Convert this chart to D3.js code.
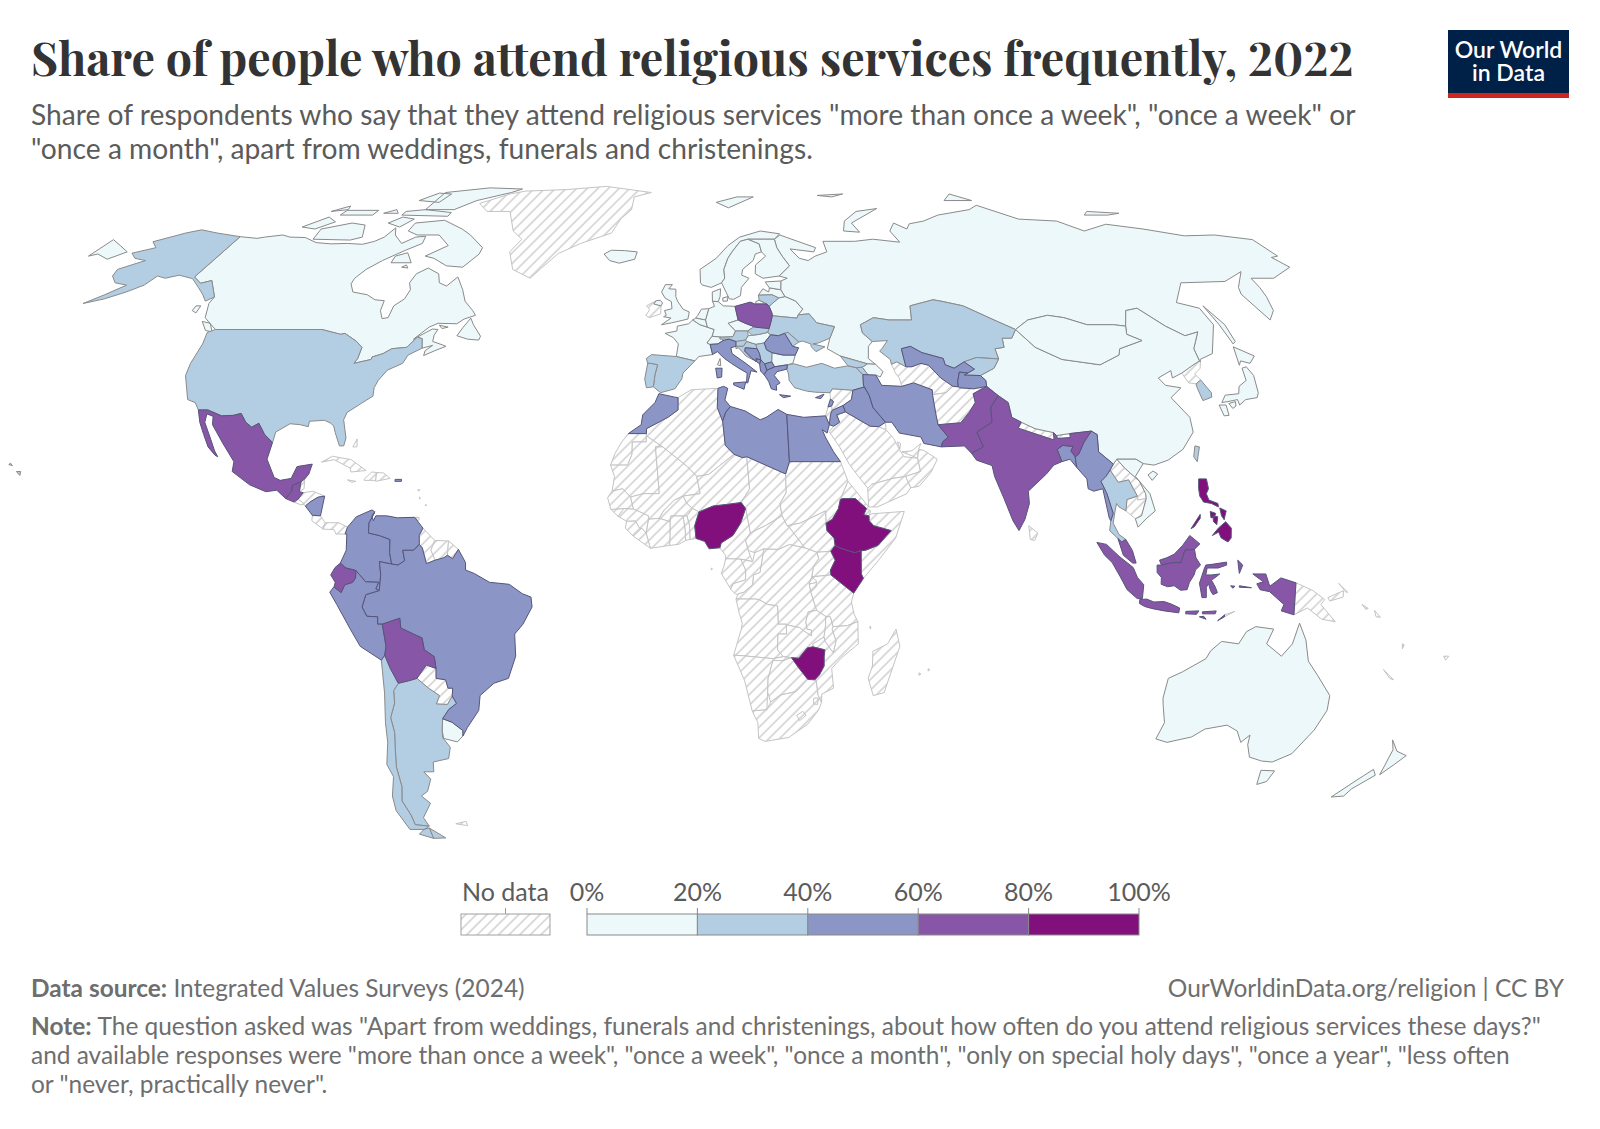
<!doctype html>
<html>
<head>
<meta charset="utf-8">
<title>Share of people who attend religious services frequently, 2022</title>
<script src="https://cdnjs.cloudflare.com/ajax/libs/d3/7.8.5/d3.min.js"></script>
<style>
  html, body { margin: 0; background: #fff; }
  text { font-family: Lato, "Noto Sans", sans-serif; }
</style>
</head>
<body>
<div id="chart"></div>
<script>

const binEdges = [0, 20, 40, 60, 80, 100];
const binColors = ["#edf8fb", "#b3cde3", "#8c96c6", "#8856a7", "#810f7c"];

const band0 = [
  ["Canada", "-141,69.6 -135,69.2 -133,69.5 -128,70 -125,69.5 -120,69.4 -115,68.2 -110,67.9 -105,68 -100,67.8 -97,68.5 -95,69.5 -94,71.8 -92,70 -90,69 -88,68 -85,69.5 -82,69.7 -81.5,68 -85,66.5 -87,65.5 -90,64 -93,62 -94.5,60 -94.5,58.8 -92.5,57 -88,56.4 -85,55.3 -82.3,55.1 -82,53 -80.5,51.3 -79,51.5 -79,54 -77,55.5 -76.7,57.5 -78,59 -77.5,61 -75,62.3 -71,61 -69.5,59 -67,58.3 -65,60.3 -62,57.5 -60,55 -57,53 -55.8,52 -58.5,51.2 -60,50.2 -65,50.3 -67,49.5 -70,47 -66,49.1 -64.5,49 -65,47.8 -64.8,46.5 -62,45.8 -61,45.5 -63.5,44.6 -66,43.6 -66,44.6 -64.5,45.7 -67,45.1 -67.8,47.1 -69.2,47.4 -71,45.3 -74.7,45 -76.5,44 -79,43.3 -79,42.8 -83,42 -82.5,43 -82.5,45.3 -84.5,46.5 -88.5,48.2 -89.5,48 -95,49 -123,49 -125,50 -128,51.5 -130,54.5 -130,55.9 -135,59.5 -137.5,58.9 -141,60.3",
    "-80,73.7 -72,71.5 -68,70 -62,67 -62,65.5 -65,62.5 -70,62.8 -75,64.5 -78,65 -73,67.5 -78,70 -85,70 -89,71 -89,73",
    "-117,69 -105,68.8 -102,69.5 -105,72.5 -110,73 -118,71.5",
    "-125,72 -120,71.5 -116,73.3 -120,74.5",
    "-90,76.5 -80,76.5 -75,79 -65,81.5 -62,82.7 -75,83.1 -90,81.5",
    "-96,75 -80,74.7 -80,75.7 -90,76.5 -96,76",
    "-117,75 -106,75 -106,76.3 -117,76.3",
    "-96,79 -88,78.5 -87,81 -92,81.3",
    "-59,47.7 -56,47 -53,46.8 -52.8,47.6 -55.5,50 -56.8,51.4 -58,49.5",
    "-128,50.7 -125.5,50.3 -123.5,48.5 -125.5,48.8",
    "-87,63.5 -81,63.5 -84,65.8 -87,65",
    "-98,73 -93,72 -90.5,74 -95,74.5",
    "-133,54 -131.7,54 -131.5,52.5 -133,53",
    "-64.5,49.9 -62,49.5 -63.5,49.2",
    "-122,76 -117,76.5 -118,77.5",
    "-103,75.5 -98,75.5 -100,76.5",
    "-83,62.5 -81,62.3 -82,63"],
  ["Russia", "28.9,69 31,70 33,69.4 41,67 40,66 35,66.5 33,66.7 35,64.5 37.5,64 40,65 44,66 44,68.5 54,68.5 60,69 68,68.3 67,71 70,73 73,71.5 75,72.8 80.5,73.5 87,75 100,76.5 104.5,77.7 113,74 125,73.5 130,71 140,72.7 150,71.5 160,69.8 170,70 179.9,68.9 179.9,65 177.5,64.7 179,62.5 170,60 163.5,60 163,58 162,56 160,53 156.7,51 155.7,56.5 157,58 163,61.5 155,59.3 142,59 135.5,54.7 140.5,53.5 140.5,50 135,44 131,42.8 130.7,42.3 130.6,42.5 131,45 135,48.5 131,47.7 127.5,49.7 123.5,53.5 120,53 117,49.7 114,50 107,50 102,51.5 98,52 92,51 87.5,49 83,51 76.5,54 71,55 69,55.3 62,54 61,51 55,51 51,51.5 47,50 47,48.3 49,46.5 47.7,45.5 47,43 48.5,41.8 46.5,41.9 40,43.5 37,45 38.2,47.2 40,49.6 35.5,50.4 34,52.3 31,52.1 32.5,53.3 31,55 28.3,56 27.5,57.5 28,59.4 30,60 27.8,60.5 31.5,62.8 30,65 29,67",
    "-179.9,68.9 -175,67.5 -170,66 -173,64.3 -178,65.5 -179.9,65",
    "142,54 143.5,50 143,46.5 142,46 142,50",
    "52,71 57,70.7 56,73 68,76.8 60,76 54,73.5",
    "95,79 105,79 100,81",
    "137,75 145,75 150,75.5 140,76",
    "50,80.5 60,81 55,80",
    "20,54.4 23,54.4 21,55.2 20,54.9"],
  ["China", "74,39.5 78,41 80,42.9 80,45 82.5,45.3 83,47.2 85.5,47.2 87.5,49 90.5,45.3 96,42.8 105,41.7 111,43.7 112,45 119,46.7 116,48 117,49.7 120,53 123.5,53.5 127.5,49.7 131,47.7 135,48.5 131,45 130.6,42.5 128,41.5 124.4,40 121.5,39 122,40.5 118,39 119,37.5 122.5,37 119,35 121.8,31 121.5,28 118,24.5 114,22.3 110.5,21.3 108,21.6 106.5,22.5 102,22.5 101,21.5 98,24 98.5,27.5 97.3,28.2 92,27.7 88.8,27.3 88.2,27.9 84,28.7 81,30 79,31 79,34 77,35.4 74.8,37.3 75,38.5",
    "108.7,19.3 110,20.1 111,19.5 109.5,18.2"],
  ["Mongolia", "87.5,49 92,51 98,52 102,51.5 107,50 114,50 117,49.7 116,48 119,46.7 112,45 111,43.7 105,41.7 96,42.8 90.5,45.3"],
  ["Australia", "113.7,-26 114,-22 117,-20.7 122,-18 122.8,-16.4 125,-14.5 129,-15 130.5,-12.5 132.5,-11.5 136.7,-12 135.5,-15 139.5,-17.5 141.5,-15 142.5,-10.8 144.5,-14.2 146,-18.5 149,-21.5 153,-25.5 153.6,-28.5 152.5,-32.5 150,-37.3 146.3,-39 143.5,-38.8 140,-38 138,-35.5 137.5,-33.5 136,-35 134,-32.7 131,-31.5 126,-32.3 123.5,-33.9 118,-35 115,-34.3 115.7,-31 114.2,-27.5",
    "144.7,-40.7 148.2,-40.8 148,-43 146,-43.6"],
  ["New Zealand", "172.7,-34.5 175.5,-36.8 178.5,-37.7 177,-39.5 175.3,-41.6 174.8,-39.8 174.5,-38 174.3,-36.5",
    "172.7,-40.5 174.3,-41.7 171,-44.5 170.5,-46 167.5,-46.2 170.5,-42.8"],
  ["Japan", "130.9,34 132.5,35.5 136,35.8 137,37.3 139.5,38.5 140.2,41 141.5,41.3 142,39.5 140.9,36 140,35 137,34.6 135,33.5 135,34.6 132.5,34.2",
    "140,41.6 141.5,45.4 145.3,43.5 143,42 141,42.5",
    "130,33.5 131.7,33.5 131.4,31.4 130.2,31.3",
    "132.5,33.8 134.3,34.2 134,33.3 133,32.8"],
  ["France", "2.6,51 4.5,50 6.4,49.5 8.2,49 7.6,47.6 6.2,46.2 7,45.9 7.5,44 7.5,43.8 4,43.4 3,42.5 -1.7,43.4 -1.2,46 -2.5,47.3 -4.7,48.2 -1.6,48.7 -1.5,49.7 1.5,50.2",
    "9.4,43 9.5,41.5 8.7,41.7"],
  ["Germany", "6,51 7,53.4 8.6,53.9 8.1,55 9.7,54.9 11,54 14.2,53.9 14.7,51 12,50.3 13.8,48.7 13,47.5 10,47.4 7.6,47.6 8.2,49 6.4,49.5"],
  ["United Kingdom", "-5.7,50 -3,50.4 1.3,51.2 1.7,52.7 0,53.3 -1.5,55 -2,56 -2,57.6 -4,57.7 -3,58.6 -5,58.6 -6,57 -5,55.7 -3.2,54.9 -3,53.4 -5,53 -4.5,52 -5.2,51.7 -3.2,51.4",
    "-8,54.4 -6,54 -5.6,54.6 -6.3,55.2 -7.4,55.1"],
  ["Iceland", "-24,65.5 -22,64 -19,63.4 -14.5,64.3 -14,66 -18,66.3 -22,66.4"],
  ["Norway", "5,59 5,62 10,64.5 14,67.5 18,69.5 25,71 31,70.3 28.9,69 25.7,69 20.5,69 18,68.5 15,66 13.5,64.5 12,62 12,60 11,59 8,58 5.5,58.5",
    "12,78.5 20,80 26,80 16,77"],
  ["Sweden", "11,59 12,60 12,62 13.5,64.5 15,66 18,68.5 20.5,69 23.8,67.9 24,66 22,65.5 21,64 17.5,62 17,60.7 19,60 16.5,58 16,56.2 14,55.4 12.8,55.5"],
  ["Finland", "20.5,69 25.7,69 28.9,69 29,67 30,65 31.5,62.8 27.8,60.5 23,60 21,61 21.5,63 25,65 24,66 23.8,67.9"],
  ["Denmark", "8.1,55 8.2,57 10.6,57.7 10.3,56 9.7,54.9", "11,55.7 12.5,56 12.2,55 11,55"],
  ["Netherlands", "3.4,51.4 6,51 7,53.4 5,53.3 4,52"],
  ["Belgium", "2.6,51 3.4,51.4 6,51 6.4,49.5 4.5,50"],
  ["Switzerland", "6.2,46.2 7.6,47.6 10,47.4 10.4,46.7 9,46 7,45.9"],
  ["Czechia", "12,50.3 14.7,51 16.5,50.3 18.8,49.6 17,48.7 14.8,48.7 13.8,48.7"],
  ["Hungary", "16.2,46.8 17,47.7 18,47.8 20,48 22.2,48.4 22.9,47.9 21,46.2 18.8,45.9 16.5,46.5"],
  ["Bulgaria", "22.7,44.2 25.5,43.7 28.6,43.7 27.7,42 26.3,41.7 23,41.3 22.4,42.3"],
  ["Belarus", "23.5,53.9 26.5,55.7 28.3,56 31,55 32.5,53.3 31,52.1 30.5,51.4 24,51.9 24,52.5"],
  ["Latvia", "21,56.3 24.8,56.4 26.5,55.7 28.3,56 27.5,57.5 24.4,57.9 24,57 22.5,57.7"],
  ["Estonia", "24.4,57.9 27.5,57.5 28,59.4 23.5,59.2"],
  ["Azerbaijan", "45,41.2 46.5,41.9 48.5,41.8 50,40.3 49,39.2 48,39.6 46.5,39"],
  ["Vietnam", "102,22.5 106.5,22.5 108,21.6 105.7,19 108.5,15.5 109.3,12 107,10.4 105,8.7 104.5,10.4 106,11 107.5,14.5 107.5,15.5 106.5,18 103.5,20.7"],
  ["Uruguay", "-57.6,-30.2 -55.5,-30.9 -53.2,-32.6 -53.4,-33.7 -55,-34.9 -58.2,-34.2 -58.2,-32.5"]
];

const band1 = [
  ["United States", "-123,49 -95,49 -89.5,48 -88.5,48.2 -84.5,46.5 -82.5,45.3 -82.5,43 -83,42 -79,42.8 -79,43.3 -76.5,44 -74.7,45 -71,45.3 -69.2,47.4 -67.8,47.1 -67,45.1 -70,43.7 -70.7,42 -74,40.6 -75.5,38.5 -76,37 -75.7,35.3 -78,33.9 -81,32 -81.4,30.5 -80,26.8 -80.2,25.2 -81.2,25.2 -81.8,26.2 -82.8,27.9 -83.5,29.3 -84.5,29.9 -86,30.4 -89.5,30.2 -89.5,29.1 -91.5,29.5 -94,29.7 -97,28 -97.2,25.9 -99.5,27.5 -101.5,29.8 -103,29 -104.7,30 -106.5,31.8 -108.2,31.4 -111,31.3 -114.8,32.5 -117.1,32.5 -118.5,34 -120.6,34.6 -122,36.8 -123.8,39.5 -124.2,42 -124,46 -124.7,48.4",
    "-141,69.6 -141,60.3 -137.5,58.9 -135,59.5 -130,55.9 -131.5,55 -134,56.5 -137,58 -141,59.9 -146,60.7 -149,60 -152,60.5 -153,58.5 -156,57 -160,55.5 -164.5,54.5 -161,56.5 -158,58.5 -162,59 -165,60.5 -166,62 -161,64 -165,64.5 -168,65.7 -163,67 -166.5,68.4 -160,70.5 -156.5,71.3 -150,70.5",
    "-156,20 -155,19.2 -155,20", "-157.3,21.2 -157.9,21.7 -158.2,21.4"],
  ["Spain", "-9.3,43 -8,43.8 -1.7,43.4 3,42.5 0,40 -0.3,38.8 -2,36.8 -5.5,36 -7.3,37.2 -7,39.6 -6.4,41.7 -8.2,42 -8.9,42"],
  ["Portugal", "-8.9,42 -8.2,42 -6.4,41.7 -7,39.6 -7.3,37.2 -9,37 -9.5,38.8"],
  ["Austria", "9.6,47.4 10,47.4 13,47.5 13.8,48.7 14.8,48.7 17,48.7 17,47.7 16.2,46.8 13.7,46.5 12,47 9.6,47"],
  ["Slovakia", "17,48.7 18.8,49.6 19,49.5 22.7,49.2 22.2,48.4 20,48 18,47.8"],
  ["Slovenia", "13.7,46.5 16.2,46.8 16.5,46.5 15.5,45.5 13.6,45.5"],
  ["Croatia", "13.6,45.5 15.5,45.5 16.5,46.5 18.8,45.9 19,45 16,45.2 15.8,44.5 17.5,43 18.5,42.4 16,43.5 15,44.5 14.2,45.2 13.6,45"],
  ["Serbia", "19,45 18.8,45.9 21,46.2 21.4,44.8 22.7,44.2 22.4,42.3 20.6,41.9 19.7,42.7 19.5,44"],
  ["Ukraine", "22.2,48.4 22.7,49.2 23.6,51 24,51.9 30.5,51.4 31,52.1 34,52.3 35.5,50.4 40,49.6 38.2,47.2 35,46.2 33.5,46 36.5,45.4 34,44.4 33,45.4 33,46 31,46.6 30,46.4 27.5,48.4 26.6,48.2 24.9,47.7 22.9,47.9"],
  ["Moldova", "26.6,48.2 27.5,48.4 30,46.4 28.2,45.5"],
  ["Lithuania", "21,56.3 21,55.2 23,54.4 23.5,53.9 26.5,55.7 24.8,56.4"],
  ["Turkey", "26,40.8 26.3,41.7 28,41.9 31,41.2 35,42 38,41 41.5,41.5 43.5,41.1 44.8,39.7 44.5,37.5 44.8,37.2 41.7,36.5 36.7,36.8 36,36 32.5,36.1 30.5,36.3 27.5,37 26.3,38.5 26.3,39.8"],
  ["Georgia", "40,43.5 46.5,41.9 45,41.2 43.5,41.1 41.5,41.5"],
  ["Armenia", "43.5,41.1 45,41.2 46.5,39 44.8,39.7"],
  ["Kazakhstan", "47,50 51,51.5 55,51 61,51 62,54 69,55.3 71,55 76.5,54 83,51 87.5,49 85.5,47.2 83,47.2 82.5,45.3 80,45 80,42.9 74.5,43.2 71,42.3 68,41 66,41.7 66,43 61,44.2 58.5,45.5 56,45 56,41.3 54,42.3 52.5,41.8 52.5,42.8 50.3,44.5 51,45 53,46.7 49,46.5 47,48.3"],
  ["Kyrgyzstan", "71,42.3 74.5,43.2 80,42.9 78,41 74,39.5 70,39.6 71,40 73,40.8"],
  ["Thailand", "100,20.3 101.5,17.8 104,18.3 105.5,15 103,14.3 102.5,12 101,12.8 100.5,13.5 100,12 99.3,9.5 100.5,7.2 102,6.2 101,5.7 100.2,6.4 98.4,8 98.8,10 99.5,11.5 98.5,15.5 97.5,18 98.8,19"],
  ["South Korea", "126.7,37.8 128.3,38.6 129.4,36 129,35.1 126.5,34.4 126.5,37"],
  ["Taiwan", "120.2,23 121,25.2 122,25 120.8,22"],
  ["Argentina", "-67,-23 -64.5,-22.5 -62.5,-22 -60,-24 -57.6,-25.5 -58.6,-27.2 -56,-27.3 -54.6,-25.6 -53.8,-27.1 -55.8,-28.3 -57.6,-30.2 -58.2,-32.5 -58.4,-34 -57,-36 -58,-38.3 -62,-39 -62.5,-41 -65,-41 -63.8,-42.5 -65.5,-45 -67.5,-46 -65.8,-47.5 -69,-50.5 -68.4,-52.3 -72,-52 -72,-50 -73,-47 -71.7,-44 -71.5,-40 -70.5,-36 -69.8,-33 -70,-30 -68.5,-27 -68.3,-24.5",
    "-68.6,-52.7 -65.2,-54.8 -68.6,-54.9"],
  ["Chile", "-70.4,-18.3 -69.5,-17.3 -68.5,-20 -67,-23 -68.3,-24.5 -68.5,-27 -70,-30 -69.8,-33 -70.5,-36 -71.5,-40 -71.7,-44 -73,-47 -72,-50 -72,-52 -68.4,-52.3 -70,-53 -74,-53 -75.5,-49 -75,-46 -73,-42 -73.7,-39.5 -72,-35 -71.5,-31 -70.5,-25",
    "-68.6,-52.7 -68.6,-54.9 -72,-54 -70,-52.9"]
];

const band2 = [
  ["Italy", "7,45.9 9,46 10.4,46.7 12,47 13.7,46.5 13.6,45.5 12.3,45.2 12.5,44 16,41.9 18.5,40.2 17,40.5 16.6,39.5 16,38 15.7,38 16,40 14,41 12.2,42 10.5,43 8.8,44.4 7.5,43.8 7.5,44",
    "12.5,38 15.5,38.2 15,36.7 12.5,37.6", "8.2,41 9.8,41 9.6,39.2 8.5,39"],
  ["Greece", "20.2,39.7 21,40.6 23,41.3 26.3,41.7 26,40.8 23.5,40.3 22.7,39.5 24,38 23,37.5 23,36.5 21.7,36.8 21.2,38.3", "23.6,35.6 26.3,35.3 24.5,35"],
  ["Albania", "19.3,41.9 19.7,42.7 20.6,41.9 21,40.6 20.2,39.7 19.4,40.4"],
  ["Montenegro", "18.5,42.4 18.5,43 19.7,42.7 19.3,41.9"],
  ["North Macedonia", "20.6,41.9 22.4,42.3 23,41.3 21,40.6"],
  ["Bosnia and Herzegovina", "16,45.2 19,45 19.5,44 19.7,42.7 18.5,43 18.5,42.4 17.5,43 15.8,44.5"],
  ["Romania", "21,46.2 22.9,47.9 24.9,47.7 26.6,48.2 28.2,45.5 29.7,45.2 28.6,43.7 25.5,43.7 22.7,44.2 21.4,44.8"],
  ["Cyprus", "32.3,35 34.5,35.7 33.6,34.8"],
  ["Morocco", "-5.9,35.8 -2,35.1 -1.2,35 -1.2,32.5 -3.6,31 -8.7,28.7 -8.7,27.7 -13,27.7 -10,29.5 -9.7,31.5 -6.8,34"],
  ["Tunisia", "8.6,36.9 10,37.3 11,36.9 10.2,34.5 11.5,33.2 10.3,32 9.5,30.2 8.3,33"],
  ["Libya", "11.5,33.2 15,32.3 18.5,30.5 20,31 23,32.6 25,31.6 25,22 24,19.5 15,23 14,22.8 12,23.5 10,25.3 9.5,30.2 10.3,32"],
  ["Egypt", "25,31.6 29,31 32.5,31.2 34.3,31.3 35,29.5 34.3,27.8 33.2,28.5 33.8,27 35.5,24 37,22 25,22"],
  ["Lebanon", "35.1,33.1 35.9,34.7 36.6,34.2 36,33.3"],
  ["Jordan", "35,29.5 36,29.2 37.5,30 37,31.5 39.2,32.1 38.8,33.4 36,32.4 35.5,31.5"],
  ["Iraq", "38.8,33.4 41,34.6 41.7,36.5 44.8,37.2 44.5,37.5 45.5,35.5 46,33 48.5,30 46.7,29.1 44.7,29.2 39.2,32.1"],
  ["Iran", "44.8,39.7 48,39.6 49,37.5 53.9,37.3 57,38 61.2,36.6 61,35.6 60.9,31.5 61,29.5 63,27 61.5,26 61,25 57,25.7 56.5,27 51.5,27.8 50,30 48.5,30 46,33 45.5,35.5 44.5,37.5"],
  ["Uzbekistan", "56,45 58.5,45.5 61,44.2 66,43 66,41.7 68,41 71,42.3 73,40.8 71,40 69,40.2 68,38.3 67.8,37.2 66.5,37.3 64,39 61.8,41.6 60,42 57.5,41.3 56,41.3"],
  ["Tajikistan", "69,40.2 71,40 70,39.6 74,39.5 75,38.5 74.8,37.3 71.5,36.8 68,37 67.8,37.2 68,38.3"],
  ["Bangladesh", "88.3,24.5 89.8,25.3 92.2,25.1 91.5,24.2 92.3,23 92.3,20.8 91,22.5 89,22"],
  ["Myanmar", "92.3,20.8 92.3,23 93.2,23.5 95,26 97.3,28.2 98.5,27.5 98,24 101,21.5 100,20.3 98.8,19 97.5,18 98.5,15.5 99.5,11.5 98.8,10 98.5,10.5 97.7,16.5 95.5,16 94.3,16.5 94.3,18.5"],
  ["Nicaragua", "-83.2,15 -83.8,11 -85.7,11.1 -87.5,13 -86.5,13.8 -84.7,14.8"],
  ["Colombia", "-77.4,8.7 -75.5,10.8 -72,12.2 -71.3,11.8 -72.5,9.5 -72.5,7.5 -70,7 -67.5,6.2 -67.5,3.5 -67,1.2 -69.8,1.7 -69.5,-1 -69.9,-4.2 -70.7,-3.8 -70,-2.5 -73,-2.4 -75.2,-0.1 -77.5,0.4 -78.8,1.4 -77.5,4 -77.5,7.3 -77.9,7.3"],
  ["Venezuela", "-71.3,11.8 -71.9,11 -71.5,10 -71,11 -68.5,11 -66,10.6 -62,10.7 -60,8.5 -60.8,7 -60.7,5.2 -62,4 -64.5,4 -64,1.9 -65.5,1 -67,1.2 -67.5,3.5 -67.5,6.2 -70,7 -72.5,7.5 -72.5,9.5"],
  ["Brazil", "-60.7,5.2 -60,4.5 -59,1.3 -57,2 -55,2.5 -54.2,3 -53,2.3 -51.7,4.2 -50,1.5 -50,0 -48,-0.7 -44.5,-2.5 -40,-2.9 -37,-4.8 -35,-5.5 -34.8,-7.5 -37,-11 -39,-13 -39,-17.5 -41,-22 -44.5,-23 -48,-25.5 -48.7,-28.5 -52,-32 -53.4,-33.7 -53.2,-32.6 -55.5,-30.9 -57.6,-30.2 -55.8,-28.3 -53.8,-27.1 -54.6,-25.6 -54.3,-24 -55.4,-24 -55.8,-22.3 -58,-22 -57.8,-20 -58,-17.6 -60.2,-16.2 -60.5,-13.8 -62.5,-13 -65.3,-11.8 -65.4,-9.8 -69.5,-11 -70.6,-11 -70.5,-9.5 -73,-9.4 -74,-7.5 -73,-5 -70,-4.2 -69.9,-4.2 -69.5,-1 -69.8,1.7 -67,1.2 -65.5,1 -64,1.9 -64.5,4 -62,4"],
  ["Peru", "-80.3,-3.4 -81.3,-4.5 -79.8,-7 -77,-12 -75,-15.5 -70.4,-18.3 -69.5,-17.3 -69,-15.5 -69.5,-11 -70.6,-11 -70.5,-9.5 -73,-9.4 -74,-7.5 -73,-5 -70,-4.2 -70.7,-3.8 -70,-2.5 -73,-2.4 -75.2,-0.1 -75.3,-1.6 -76,-2.5 -77.8,-3 -78.7,-4.6"],
  ["Puerto Rico", "-67.2,18.4 -65.7,18.4 -65.7,18 -67.2,18"]
];

const band3 = [
  ["Mexico", "-117.1,32.5 -114.8,32.5 -111,31.3 -108.2,31.4 -106.5,31.8 -104.7,30 -103,29 -101.5,29.8 -99.5,27.5 -97.2,25.9 -97.8,22.5 -95.5,18.8 -94,18.2 -91.5,18.6 -90.5,21 -87,21.5 -87.5,19.5 -88.3,18.5 -89.1,17.9 -91,17.2 -91,16 -92.2,14.5 -94.5,16.2 -97,15.9 -101,17.3 -105.5,20 -105.5,22 -109,25.8 -112.5,29.5 -113,31.2 -114.7,31.7 -114.5,30 -112,26.5 -110.5,24.2 -109.5,23 -110.2,23.3 -112.2,25 -114,27.5 -115.7,30"],
  ["Guatemala", "-92.2,14.5 -91,16 -91,17.2 -89.1,17.9 -89.2,15.9 -88.3,15.7 -89.3,14.4 -90.2,13.8"],
  ["Ecuador", "-75.2,-0.1 -77.5,0.4 -78.8,1.4 -80,0.5 -81,-1 -80,-2.5 -80.3,-3.4 -78.7,-4.6 -77.8,-3 -76,-2.5 -75.3,-1.6"],
  ["Bolivia", "-69.5,-11 -65.4,-9.8 -65.3,-11.8 -62.5,-13 -60.5,-13.8 -60.2,-16.2 -58,-17.6 -57.8,-20 -60,-19.3 -62.5,-22 -64.5,-22.5 -67,-23 -68.5,-20 -69.5,-17.3 -69,-15.5"],
  ["Poland", "14.2,53.9 18.5,54.8 19.7,54.4 23,54.4 23.5,53.9 24,52.5 24,51.9 23.6,51 22.7,49.2 19,49.5 18.8,49.6 16.5,50.3 14.7,51"],
  ["Pakistan", "61,25 61.5,26 63,27 61,29.5 66.5,29.9 69,32 71,34 71,35.8 74.8,37.3 77,35.4 74.5,33 74,30 70,28 71,25 68,23.7 66.5,25.2"],
  ["India", "68,23.7 71,25 70,28 74,30 74.5,33 77,35.4 79,34 79,31 81,30 80,28.8 88,26.4 88.2,27.9 88.8,27.3 88.9,26.7 92,26.9 92,27.7 97.3,28.2 95,26 93.2,23.5 92.3,23 91.5,24.2 92.2,25.1 89.8,25.3 88.3,24.5 89,22 87,21.3 85,19.5 80.3,16 80.3,13.5 79,10.3 77.5,8 76.2,10 74.5,14.5 72.8,19 72.5,21.2 69,22.3"],
  ["Malaysia", "100.2,6.4 101,5.7 102,6.2 103.4,4 104.2,1.4 103.4,1.4 101.3,3",
    "109.6,2 111.3,2.5 113,3.2 115,5 116.8,7 119,5.3 117.7,4.2 115.5,4 114.5,1.5 112.5,1.5 110,1"],
  ["Indonesia", "109,1 110,1 112.5,1.5 114.5,1.5 115.5,4 117.7,4.2 118,2.5 119,1 117.8,0 117.5,-1 116.5,-2.5 116,-4 114.5,-4.1 113,-3.2 111.5,-3.4 110,-2.9 110,-1.5 109,-0.5",
    "95.3,5.6 97.5,5.2 100.3,2.8 103.5,0.5 104.5,-1.5 106,-3 105.8,-5.8 104.6,-5.8 102.2,-4 100.5,-1.3 98.7,1.5 97,3",
    "105.2,-6 106.8,-5.9 108.5,-6.5 110.8,-6.4 112.5,-6.9 114.5,-7.7 114.4,-8.7 111,-8.3 108,-7.8 106.4,-7.4 105.2,-6.8",
    "116,-8.4 119,-8.3 118.5,-9 116,-8.9",
    "119.8,-8.5 123,-8.3 122.8,-8.9 119.9,-8.9",
    "119.2,-9.5 120.8,-10 120.2,-9.4",
    "123.5,-10.3 125,-9.1 125,-9.5",
    "119.5,-5.6 119,-3.5 118.8,-2.7 119.8,0.2 120.2,1 122,1.2 125,1.6 125,1 123,0.4 120.5,0.4 120.2,-1 121.5,-1 123.4,-0.8 122,-1.8 121.5,-2 122.5,-3.5 123,-4.6 122,-5 121.4,-4.2 120.9,-2.8 120.4,-3.5 120.5,-5.6",
    "127.6,2 128.7,1 127.9,-0.7 127.7,0.8",
    "128,-3.2 130.8,-3.6 128,-3.5",
    "126,-3.2 127,-3.3 126.5,-3.7",
    "131,-0.8 134,-0.8 135,-3.3 137.5,-1.6 141,-2.6 141,-9.1 138,-8.3 138.5,-7 135,-4.4 132.8,-4 132,-2.8 133.5,-2.4"]
];

const band4 = [
  ["Nigeria", "8.5,4.5 8.8,5.5 11.5,7 13.3,9.5 14.5,12.5 13.5,13.7 10,13.3 7,13 3.7,11.8 2.7,9 3,6.4 5,5.8 6,4.3"],
  ["Ethiopia", "36.5,14.3 37,14.5 40,14.5 42.5,12.5 41.8,11.2 43,11 43,10 44,9 48,8 44.9,5 42,4 41,3.9 39.5,3.5 36,4.5 35,5 34.8,6.5 33.2,8 33,9.5 34.5,10.3 36,12.5"],
  ["Kenya", "34,3.8 35,5 36,4.5 39.5,3.5 41,3.9 41,-0.8 41.5,-1.7 39.3,-4.7 37.7,-3.6 34,-1 33.9,0 35,2"],
  ["Zimbabwe", "25.3,-17.8 27,-17.9 28.9,-15.8 30.2,-15.6 33,-16.2 32.9,-17.5 33,-19.5 32,-21.3 31,-22.3 29.3,-22.2 27,-19.8"],
  ["Philippines", "120.4,18.5 122.2,18.5 122.3,16.5 121.6,15.5 122,14.2 124,13.5 124,12.8 122.5,13.5 120.7,13.8 120,15 120,16.5",
    "122,7 123.5,8.5 125.3,9.8 126.5,8.5 126.3,6.5 125.5,5.7 124,6.5 123.5,7.7",
    "124.3,12.6 125.7,12 125.3,11 125,10.2 124.5,11",
    "122,11.9 123.2,11.5 122.8,10.7 122,10.6",
    "122.5,11 123.6,10.8 123.2,9.2 122.5,9.8",
    "117.2,8.4 119.6,11.3 119.5,10.5 118,8.8"]
];

const noData = [
  ["Greenland", "-73,78.2 -68,76 -60,76 -55,71 -51,69 -53,66 -50,62 -44,60 -42,62 -38,65.6 -32,68 -23,70.5 -21,74 -18,76.5 -18,80 -12,81.5 -30,83.6 -45,82.5 -60,82 -65,81"],
  ["Ireland", "-10,54 -7.4,55.1 -8,54.4 -6,54 -6,52.3 -9,51.5 -10,52 -9,53.2"],
  ["Belize", "-89.1,17.9 -88.3,18.5 -88.2,16.5 -89.2,15.9"],
  ["Honduras", "-88.3,15.7 -86,16 -83.2,15 -84.7,14.8 -86.5,13.8 -87.5,13 -89.3,14.4"],
  ["El Salvador", "-90.2,13.8 -89.3,14.4 -87.8,13.4 -88.5,13.2"],
  ["Costa Rica", "-83.8,11 -82.6,9.6 -83,8.3 -85.7,10 -85.7,11.1"],
  ["Panama", "-82.6,9.6 -79.5,9.6 -77.4,8.7 -77.9,7.3 -80,7.3 -80.5,8.2 -83,8.3"],
  ["Cuba", "-84.9,21.9 -82.5,23.1 -78,22.4 -74.2,20.2 -77.7,19.9 -78,20.7 -82,22.4"],
  ["Jamaica", "-78.3,18.3 -76.3,18 -77.3,17.8"],
  ["Haiti", "-74.4,18.5 -72.8,19.9 -71.7,19.8 -71.7,18.2 -74.4,18.2"],
  ["Dominican Republic", "-71.7,19.8 -70,19.7 -68.4,18.6 -71.7,18"],
  ["Bahamas", "-78,25 -77.3,26.6 -77,25"],
  ["Trinidad and Tobago", "-61.8,10.7 -61,10.7 -61,10.1 -61.8,10.1"],
  ["Guadeloupe", "-61.7,16.3 -61.2,16.3 -61.5,16"],
  ["Martinique", "-61.2,14.8 -60.9,14.6 -61.1,14.4"],
  ["Barbados", "-59.7,13.3 -59.4,13.2 -59.6,13"],
  ["Guyana", "-60,8.5 -57.2,6 -58,4 -57,2 -59,1.3 -60,4.5 -60.7,5.2 -60.8,7"],
  ["Suriname", "-57.2,6 -54,5.9 -54.2,3 -55,2.5 -57,2 -58,4"],
  ["French Guiana", "-54,5.9 -51.7,4.2 -53,2.3 -54.2,3"],
  ["Paraguay", "-58,-22 -55.8,-22.3 -55.4,-24 -54.3,-24 -54.6,-25.6 -56,-27.3 -58.6,-27.2 -57.6,-25.5 -60,-24 -62.5,-22 -60,-19.3 -57.8,-20"],
  ["Falkland Islands", "-61,-51.8 -58,-51.3 -58,-52.2"],
  ["Syria", "36,36 36.7,36.8 41.7,36.5 41,34.6 38.8,33.4 36,32.4 36,33.3 36.6,34.2 35.9,34.7"],
  ["Israel", "34.3,31.3 35,29.5 35.5,31.5 36,32.4 36,33.3 35.1,33.1"],
  ["Saudi Arabia", "34.8,28.1 36,29.2 37.5,30 37,31.5 39.2,32.1 44.7,29.2 46.7,29.1 48.4,28.5 50,26.7 51,24.6 52,23 55.2,22.7 55.6,20 52,19 49,18.6 44,17.4 43,16.6 41,19 39,21.5 37,25"],
  ["Kuwait", "46.7,29.1 48.5,30 48.4,28.5"],
  ["Qatar", "50.8,26 51.5,25.7 51.2,24.6"],
  ["United Arab Emirates", "51.6,24 55.2,22.7 55.6,24.5 56.3,25.7 54,24.2"],
  ["Oman", "55.2,22.7 55.6,20 52,19 53,16.7 55,17 58,19.8 59.8,22.5 56.8,24.3 55.6,24.5"],
  ["Yemen", "43,12.8 45,12.8 52,15.5 53,16.7 52,19 49,18.6 44,17.4 43,16.6"],
  ["Turkmenistan", "52.5,41.8 54,42.3 56,41.3 57.5,41.3 60,42 61.8,41.6 64,39 66.5,37.3 64.5,36 61,35.6 61.2,36.6 57,38 53.9,37.3 53.7,39 53,40"],
  ["Afghanistan", "61,35.6 64.5,36 66.5,37.3 67.8,37.2 68,37 71.5,36.8 74.8,37.3 71,35.8 71,34 69,32 66.5,29.9 61,29.5 60.9,31.5"],
  ["Nepal", "80,28.8 81,30 84,28.7 88.2,27.9 88,26.4"],
  ["Bhutan", "88.8,27.3 92,27.7 92,26.9 88.9,26.7"],
  ["Sri Lanka", "79.8,9 81.8,7.5 81,6 80,6.2"],
  ["North Korea", "124.4,40 128,41.5 130.6,42.5 130.7,42.3 129.7,41 127.5,39.8 128.3,38.6 126.7,37.8 125,38"],
  ["Laos", "101,21.5 102,22.5 103.5,20.7 106.5,18 107.5,15.5 107.5,14.5 105.5,14.2 105.5,15 104,18.3 101.5,17.8 100,20.3"],
  ["Cambodia", "102.5,12 103,14.3 105.5,15 105.5,14.2 107.5,14.5 106,11 104.5,10.4"],
  ["Timor-Leste", "125,-9.1 127.3,-8.4 125,-9.5"],
  ["Papua New Guinea", "141,-2.6 145,-4.2 147.8,-6 147,-7 150.7,-10.5 147.5,-10 144,-7.7 141,-9.1",
    "148.5,-5.6 152,-4.2 152,-5.5 149,-6.3", "150.8,-2.7 153,-4.5 152.6,-4.5"],
  ["Solomon Islands", "156.5,-7 158,-7.8 157.5,-8", "159.5,-8.2 161,-9.6 160,-9.5"],
  ["Vanuatu", "167,-15 167.5,-15.2 167.3,-16"],
  ["New Caledonia", "164,-20.2 167,-22.3 166,-22"],
  ["Fiji", "177.3,-17.5 178.5,-17.5 178,-18.3"],
  ["Western Sahara", "-13,27.7 -8.7,27.7 -8.7,26 -12,26 -12,23.5 -13,21.3 -17,21.3 -16,23.7 -14.5,26"],
  ["Mauritania", "-17,21.3 -13,21.3 -12,23.5 -12,26 -8.7,26 -8.7,27.3 -4.8,25 -6.5,25 -5.5,15.5 -9.3,15.5 -12.2,14.8 -14,16.5 -16.5,16 -16,19"],
  ["Algeria", "-1.2,35 2,36.6 8.6,36.9 8.3,33 9.5,30.2 10,25.3 12,23.5 6,19.4 3.2,19 1,21 -4.8,25 -8.7,27.3 -8.7,28.7 -3.6,31 -1.2,32.5"],
  ["Mali", "-12.2,14.8 -9.3,15.5 -5.5,15.5 -6.5,25 -4.8,25 1,21 3.2,19 4,15.5 0,15 -2,14.2 -4.5,12 -5.5,10.5 -8,10.3 -8,11 -11.5,12.4"],
  ["Niger", "0,15 4,15.5 3.2,19 6,19.4 12,23.5 14,22.8 15,23 15.5,16.5 13.5,13.7 10,13.3 7,13 3.7,11.8 2.2,12.5 0.9,13.5"],
  ["Chad", "15,23 24,19.5 24,15.7 22.5,13.5 22.9,11 19,9 15.5,7.5 14.5,12.5 13.5,13.7 15.5,16.5"],
  ["Sudan", "24,19.5 25,22 37,22 38.5,18 36.5,14.3 36,12.5 34.5,10.3 33,9.5 33,12 27,9.5 24,9 22.9,11 22.5,13.5 24,15.7"],
  ["South Sudan", "24,9 27,9.5 33,12 33,9.5 33.2,8 34.8,6.5 35,5 34,3.8 30.8,3.6 28,4.5 24.5,8.7"],
  ["Eritrea", "38.5,18 43,12.8 42.5,12.5 40,14.5 37,14.5 36.5,14.3"],
  ["Djibouti", "41.8,11.2 42.5,12.5 43.4,12 43,11"],
  ["Somalia", "43,11 43.5,11.4 51.2,11.9 49,6.5 45,2 41.5,-1.7 41,-0.8 41,3.9 42,4 44.9,5 48,8 44,9 43,10"],
  ["Uganda", "30.8,3.6 34,3.8 35,2 33.9,0 34,-1 29.6,-1.4 30,0.8 31.2,2.3"],
  ["Tanzania", "29.6,-1.4 34,-1 37.7,-3.6 39.3,-4.7 38.8,-6.5 39.5,-9 40.4,-10.5 38,-11.3 34.7,-11.5 34,-9.5 32.9,-9.4 30.8,-8.2 29.4,-4.5 30.6,-3.4"],
  ["Rwanda", "29,-2.7 29.6,-1.4 30.8,-2.3 29.9,-2.8"],
  ["Burundi", "29,-2.9 30.7,-2.5 30.6,-3.4 29.4,-4.5"],
  ["DR Congo", "12.2,-5.8 12.8,-4.8 14,-4.5 16,-3 16.2,-1 17.7,-0.5 18.6,4.3 22,4.2 24.5,5.2 28,4.5 30.8,3.6 31.2,2.3 30,0.8 29.6,-1.4 29,-2.7 29.4,-4.5 30.8,-8.2 28.9,-8.5 28.4,-10.5 28.7,-12 29.8,-12.2 29.8,-13.4 28,-12.4 27,-11.7 24.3,-11.2 23.9,-11 22,-11 21.8,-7.3 19.5,-7 17.5,-6 16.5,-5.9 13,-5.9"],
  ["Central African Republic", "14.4,6 15.5,7.5 19,9 22.9,11 24,9 24.5,8.7 28,4.5 24.5,5.2 22,4.2 18.6,4.3 16.5,3.5 15,4"],
  ["Cameroon", "8.5,4.5 8.8,5.5 11.5,7 13.3,9.5 14.5,12.5 15.5,7.5 14.4,6 15,4 16,1.7 13.3,2.2 9.8,2.3 9.8,3"],
  ["Benin", "1.6,6.2 3,6.4 2.7,9 3.7,11.8 2.2,12.5 0.9,11 1.5,9"],
  ["Togo", "0.6,6 1.6,6.2 1.5,9 0.9,11 0,11 0.5,8"],
  ["Ghana", "-3.1,5 -1,5.2 0.6,6 0.5,8 0,11 -2.8,11 -3,9.8 -3,7"],
  ["Burkina Faso", "-5.5,10.5 -4.5,12 -2,14.2 0,15 0.9,13.5 2.2,12.5 0.9,11 0,11 -2.8,11 -3,9.8"],
  ["Ivory Coast", "-8,10.3 -5.5,10.5 -3,9.8 -3,7 -3.1,5 -7.5,4.4 -8.5,7.5"],
  ["Liberia", "-11.5,6.9 -9.5,8.5 -8.5,7.5 -7.5,4.4"],
  ["Sierra Leone", "-13.3,8.5 -13,9.9 -11,10 -10,8.5 -9.5,8.5 -11.5,6.9"],
  ["Guinea", "-15,10.9 -13.7,12.5 -11.5,12.4 -8,11 -8,10.3 -8.5,7.5 -9.5,8.5 -10,8.5 -11,10 -13,9.9"],
  ["Guinea-Bissau", "-16.7,12.3 -13.7,12.5 -15,10.9"],
  ["Senegal", "-16.5,16 -14,16.5 -12.2,14.8 -11.5,12.4 -13.7,12.5 -16.7,12.3 -17.5,14.7"],
  ["Gabon", "8.8,-0.7 9.5,1 9.8,2.3 13.3,2.2 14.4,0 14.4,-2 11.5,-2.8 11,-3.9"],
  ["Congo", "11,-3.9 11.5,-2.8 14.4,-2 14.4,0 13.3,2.2 16,1.7 16.5,3.5 18.6,4.3 17.7,-0.5 16.2,-1 16,-3 14,-4.5 12.8,-4.8 12.2,-5"],
  ["Angola", "12.2,-5.9 13,-5.9 16.5,-5.9 17.5,-6 19.5,-7 21.8,-7.3 22,-11 23.9,-11 24,-13 22,-13 22,-16.2 23.4,-17.6 21,-18 13.9,-17.4 11.8,-17.3 13.5,-12 13.7,-10.8 13,-8.8"],
  ["Zambia", "22,-13 24,-13 23.9,-11 24.3,-11.2 27,-11.7 28,-12.4 29.8,-13.4 29.8,-12.2 28.7,-12 28.4,-10.5 28.9,-8.5 30.8,-8.2 32.9,-9.4 33,-11 32.7,-13.6 30.2,-15 30.2,-15.6 28.9,-15.8 27,-17.9 25.3,-17.8 23.4,-17.6 22,-16.2"],
  ["Namibia", "11.8,-17.3 13.9,-17.4 21,-18 23.4,-17.6 25.3,-17.8 23.4,-18.4 21,-18.4 20,-22 20,-28.4 16.5,-28.6 14.5,-22.5"],
  ["Botswana", "20,-22 21,-18.4 23.4,-18.4 25.3,-17.8 27,-19.8 29.3,-22.2 26.7,-24.7 23,-25.4 20.8,-26.8 20,-24.8"],
  ["South Africa", "16.5,-28.6 20,-28.4 20.8,-26.8 23,-25.4 26.7,-24.7 29.3,-22.2 31,-22.3 31.3,-22.4 32,-25.5 32.9,-26.9 32.3,-28.5 30,-31.3 25.7,-34 20,-34.8 18.4,-34.2 18,-31"],
  ["Lesotho", "27.2,-29.5 28.6,-28.7 29.4,-29.5 28,-30.6"],
  ["Eswatini", "31,-26 32,-26 32,-27.3 31,-27.2"],
  ["Mozambique", "31,-22.3 32,-21.3 33,-19.5 33,-16.2 30.2,-15.6 30.2,-15 32.7,-13.6 33,-14.5 35,-16.8 35.5,-14.4 34.5,-12 34.7,-11.5 38,-11.3 40.4,-10.5 40.7,-15 37,-17.8 34.8,-20 35.5,-24 32.8,-25.2 32.9,-26.9 32,-25.5 31.3,-22.4"],
  ["Malawi", "33,-11 32.9,-9.4 34,-9.5 34.7,-11.5 34.5,-12 35.5,-14.4 35,-16.8 33,-14.5 32.7,-13.6"],
  ["Madagascar", "49.3,-12 50.4,-15.5 47.5,-24.9 45,-25.5 43.5,-22 44.3,-19.5 44.2,-16.5 47.5,-15"],
  ["Comoros", "43.3,-11.4 43.5,-11.9 43.2,-11.8"],
  ["Mauritius", "57.4,-20 57.8,-20.3 57.4,-20.5"],
  ["Reunion", "55.3,-20.9 55.8,-21.1 55.4,-21.4"],
  ["Sao Tome and Principe", "6.5,0.4 6.8,0.2 6.5,0"]
];

const legendTicks = ["0%", "20%", "40%", "60%", "80%", "100%"];
const subtitleLines = [
  'Share of respondents who say that they attend religious services "more than once a week", "once a week" or',
  '"once a month", apart from weddings, funerals and christenings.'
];
const noteLines = [
  'The question asked was "Apart from weddings, funerals and christenings, about how often do you attend religious services these days?"',
  'and available responses were "more than once a week", "once a week", "once a month", "only on special holy days", "once a year", "less often',
  'or "never, practically never".'
];

// Robinson table, every 5 degrees of latitude
const robLen = [1,.9986,.9954,.99,.9822,.973,.96,.9427,.9216,.8962,.8679,.835,.7986,.7597,.7186,.6732,.6213,.5722,.5322];
const robDrop = [0,.062,.124,.186,.248,.31,.372,.434,.4958,.5571,.6176,.6769,.7346,.7903,.8435,.8936,.9394,.9761,1];
const latIndex = d3.range(robLen.length).map(i => i * 5);
const lenAt = d3.scaleLinear().domain(latIndex).range(robLen);
const dropAt = d3.scaleLinear().domain(latIndex).range(robDrop);

function robinsonRaw(lambda, phi) {
  const lat = Math.abs(phi) * 180 / Math.PI;
  return [0.8487 * lambda * lenAt(lat), 1.3523 * dropAt(lat) * Math.sign(phi)];
}

const projection = d3.geoProjection(robinsonRaw)
  .scale(293.7)
  .translate([683, 570])
  .precision(0);
const path = d3.geoPath(projection);

function toFeature(row) {
  const [name, ...rings] = row;
  const polys = rings.map(r => [r.split(" ").map(p => p.split(",").map(Number))]
    .map(ring => ring.concat([ring[0]])));
  polys.forEach(poly => {
    // d3 wants clockwise rings, flip the ones that came out as the whole globe
    if (d3.geoArea({ type: "Polygon", coordinates: poly }) > 2 * Math.PI) poly[0].reverse();
  });
  return { type: "Feature", properties: { name }, geometry: { type: "MultiPolygon", coordinates: polys } };
}

const width = 1600, height = 1129;
const svg = d3.select("#chart").append("svg")
  .attr("width", width).attr("height", height)
  .attr("viewBox", [0, 0, width, height])
  .style("display", "block");

const hatch = svg.append("defs").append("pattern")
  .attr("id", "hatch")
  .attr("patternUnits", "userSpaceOnUse")
  .attr("width", 7.5).attr("height", 7.5)
  .attr("patternTransform", "rotate(45)");
hatch.append("rect").attr("width", 7.5).attr("height", 7.5).attr("fill", "#fff");
hatch.append("line")
  .attr("x1", 1).attr("x2", 1).attr("y1", 0).attr("y2", 7.5)
  .attr("stroke", "#c4c4c4").attr("stroke-width", 1.2);

// title + subtitle; title size is worked out so it runs to the same right edge as the original
const title = svg.append("text")
  .attr("x", 31).attr("y", 76)
  .style("font-family", '"Playfair Display", "Liberation Serif", serif')
  .style("font-variant-numeric", "lining-nums")
  .style("font-weight", 700).style("font-size", "50px").attr("fill", "#333")
  .text("Share of people who attend religious services frequently, 2022");
title.style("font-size", (50 * 1323 / title.node().getComputedTextLength()) + "px");

svg.append("g").selectAll("text").data(subtitleLines).join("text")
  .attr("x", 31).attr("y", (d, i) => 125 + i * 34)
  .style("font-size", "28.2px").attr("fill", "#5b5b5b")
  .text(d => d);

// logo
const logo = svg.append("g");
logo.append("rect").attr("x", 1448).attr("y", 30).attr("width", 121).attr("height", 68).attr("fill", "#002147");
logo.append("rect").attr("x", 1448).attr("y", 93).attr("width", 121).attr("height", 5).attr("fill", "#ce261e");
const logoText = logo.append("text")
  .attr("text-anchor", "middle")
  .style("font-size", "23px").style("font-weight", 600).attr("fill", "#fff");
logoText.selectAll("tspan").data(["Our World", "in Data"]).join("tspan")
  .attr("x", 1508.5).attr("y", (d, i) => 58 + i * 23)
  .text(d => d);

// map, no-data countries first so the coloured borders stay on top
const map = svg.append("g");
map.selectAll("path.nodata").data(noData.map(toFeature)).join("path")
  .attr("class", "nodata")
  .attr("d", path)
  .attr("fill", "url(#hatch)")
  .attr("stroke", "#c4c4c4").attr("stroke-width", 1).attr("stroke-linejoin", "round");

[band0, band1, band2, band3, band4].forEach((band, i) => {
  map.append("g").selectAll("path").data(band.map(toFeature)).join("path")
    .attr("d", path)
    .attr("fill", binColors[i])
    .attr("stroke", i < 2 ? "#8a8a8a" : "#55557a").attr("stroke-width", 1).attr("stroke-linejoin", "round");
});

// legend
const legendX = d3.scaleLinear().domain([0, 100]).range([587, 1139]);
const legend = svg.append("g");
legend.selectAll("rect.bin").data(d3.pairs(binEdges)).join("rect")
  .attr("class", "bin")
  .attr("x", d => legendX(d[0])).attr("y", 914)
  .attr("width", d => legendX(d[1]) - legendX(d[0])).attr("height", 21)
  .attr("fill", (d, i) => binColors[i])
  .attr("stroke", "#8a8a8a").attr("stroke-width", 1);
legend.selectAll("line.tick").data(binEdges).join("line")
  .attr("class", "tick")
  .attr("x1", d => legendX(d)).attr("x2", d => legendX(d))
  .attr("y1", 908).attr("y2", 914)
  .attr("stroke", "#8a8a8a");
legend.selectAll("text.tick").data(binEdges).join("text")
  .attr("class", "tick")
  .attr("x", d => legendX(d)).attr("y", 901)
  .attr("text-anchor", "middle")
  .style("font-size", "25px").attr("fill", "#5b5b5b")
  .text((d, i) => legendTicks[i]);

legend.append("rect")
  .attr("x", 461).attr("y", 914).attr("width", 89).attr("height", 21)
  .attr("fill", "url(#hatch)").attr("stroke", "#a0a0a0");
legend.append("line")
  .attr("x1", 505.5).attr("x2", 505.5).attr("y1", 908).attr("y2", 914).attr("stroke", "#a0a0a0");
legend.append("text")
  .attr("x", 505.5).attr("y", 901).attr("text-anchor", "middle")
  .style("font-size", "25px").attr("fill", "#5b5b5b")
  .text("No data");

// footer
const footColor = "#6e6e6e";
const source = svg.append("text").attr("x", 31).attr("y", 997)
  .style("font-size", "24.45px").attr("fill", footColor);
source.append("tspan").style("font-weight", 700).text("Data source:");
source.append("tspan").text(" Integrated Values Surveys (2024)");

svg.append("text").attr("x", 1564).attr("y", 997).attr("text-anchor", "end")
  .style("font-size", "24.45px").attr("fill", footColor)
  .text("OurWorldinData.org/religion | CC BY");

const note = svg.append("g");
note.selectAll("text").data(noteLines).join("text")
  .attr("x", 31).attr("y", (d, i) => 1035 + i * 29)
  .style("font-size", "24.45px").attr("fill", footColor)
  .each(function (d, i) {
    const t = d3.select(this);
    if (i === 0) t.append("tspan").style("font-weight", 700).text("Note: ");
    t.append("tspan").text(d);
  });
</script>
</body>
</html>
